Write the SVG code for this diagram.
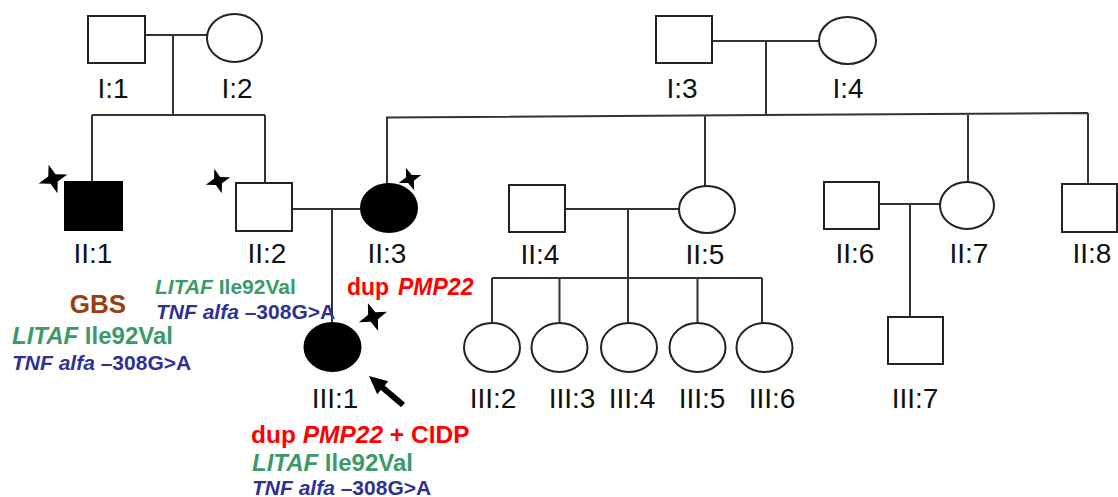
<svg xmlns="http://www.w3.org/2000/svg" width="1118" height="497" viewBox="0 0 1118 497">
<style>
.sh{fill:#fff;stroke:#222;stroke-width:2}
.af{fill:#000;stroke:#000;stroke-width:2}
.ln{fill:none;stroke:#333;stroke-width:2}
.lb{font-family:"Liberation Sans",Arial,sans-serif;font-size:28px;fill:#111;text-anchor:middle}
.t{font-family:"Liberation Sans",Arial,sans-serif;font-weight:bold}
.i{font-style:italic}
.g{fill:#3a9a6a}
.b{fill:#2e3192}
.r{fill:#ff0000}
.br{fill:#9c3d10}
</style>
<defs>
<path id="star" d="M0,-15 L3.8,-3.8 L15,0 L3.8,3.8 L0,15 L-3.8,3.8 L-15,0 L-3.8,-3.8 Z" fill="#000"/>
</defs>
<g id="connectors">
<path class="ln" d="M145,35 H207 M173,35 V115 M92,115 H265 M92,115 V182 M265,115 V183"/>
<path class="ln" d="M292,209 H361 M332,209 V323"/>
<path class="ln" d="M712,41 H819 M766,41 V116 M386,117.5 L1088,113 M387,117.5 V184 M705,116 V186 M968,114 V182 M1088,113 V184"/>
<path class="ln" d="M565,209 H679 M628,209 V278 M492,278 H762 M492,278 V323 M559.5,278 V323 M628,278 V323 M697.5,278 V323 M762,278 V323"/>
<path class="ln" d="M879,204 H940 M910,204 V317"/>
</g>
<g id="I1"><rect class="sh" x="88" y="16" width="57" height="47"/><text class="lb" x="113" y="98">I:1</text></g>
<g id="I2"><ellipse class="sh" cx="234.5" cy="38" rx="27.5" ry="24"/><text class="lb" x="237" y="98">I:2</text></g>
<g id="I3"><rect class="sh" x="656" y="16" width="56" height="47"/><text class="lb" x="682" y="98">I:3</text></g>
<g id="I4"><ellipse class="sh" cx="847.5" cy="40.5" rx="28.5" ry="23.5"/><text class="lb" x="848" y="98">I:4</text></g>
<g id="II1"><rect class="af" x="65" y="182" width="57" height="48"/><use href="#star" transform="translate(53,179) rotate(-17)"/><text class="lb" x="93" y="263">II:1</text></g>
<g id="II2"><rect class="sh" x="236" y="183" width="56" height="48"/><use href="#star" transform="translate(218,181) rotate(-17) scale(0.85)"/><text class="lb" x="267" y="263">II:2</text></g>
<g id="II3"><ellipse class="af" cx="389" cy="208" rx="28" ry="24"/><use href="#star" transform="translate(410,179) rotate(-20) scale(0.8)"/><text class="lb" x="387" y="263">II:3</text></g>
<g id="II4"><rect class="sh" x="509" y="185" width="56" height="47"/><text class="lb" x="540" y="264">II:4</text></g>
<g id="II5"><ellipse class="sh" cx="707" cy="209.5" rx="28" ry="23.5"/><text class="lb" x="705" y="264">II:5</text></g>
<g id="II6"><rect class="sh" x="824" y="182" width="55" height="47"/><text class="lb" x="855" y="263">II:6</text></g>
<g id="II7"><ellipse class="sh" cx="967" cy="205.5" rx="27" ry="23.5"/><text class="lb" x="969" y="263">II:7</text></g>
<g id="II8"><rect class="sh" x="1062" y="184" width="55" height="48"/><text class="lb" x="1092" y="263">II:8</text></g>
<g id="III1"><ellipse class="af" cx="332.5" cy="347" rx="28" ry="24"/><use href="#star" transform="translate(373,317) rotate(-20)"/><polygon fill="#000" points="369,376 388.2,381.2 384.7,385.4 405,402.7 401.1,407.3 380.8,390 377.2,394.2"/><text class="lb" x="335" y="408">III:1</text></g>
<g id="III2"><ellipse class="sh" cx="492" cy="347.5" rx="28" ry="24.5"/><text class="lb" x="493" y="408">III:2</text></g>
<g id="III3"><ellipse class="sh" cx="559.5" cy="347.5" rx="28" ry="24.5"/><text class="lb" x="572" y="408">III:3</text></g>
<g id="III4"><ellipse class="sh" cx="629" cy="347.5" rx="28" ry="24.5"/><text class="lb" x="632" y="408">III:4</text></g>
<g id="III5"><ellipse class="sh" cx="697.5" cy="347.5" rx="28" ry="24.5"/><text class="lb" x="702" y="408">III:5</text></g>
<g id="III6"><ellipse class="sh" cx="764.5" cy="347.5" rx="28" ry="24.5"/><text class="lb" x="772" y="408">III:6</text></g>
<g id="III7"><rect class="sh" x="888" y="317" width="55" height="47"/><text class="lb" x="915" y="408">III:7</text></g>
<g id="annotations">
<text class="t g" x="155" y="294" font-size="21"><tspan class="i">LITAF</tspan> Ile92Val</text>
<text class="t b" x="156" y="319" font-size="21"><tspan class="i">TNF alfa</tspan> –308G&gt;A</text>
<text class="t br" x="98" y="313" font-size="26" text-anchor="middle">GBS</text>
<text class="t g" x="12" y="344" font-size="24"><tspan class="i">LITAF</tspan> Ile92Val</text>
<text class="t b" x="12" y="370" font-size="21"><tspan class="i">TNF alfa</tspan> –308G&gt;A</text>
<text class="t r" x="347" y="295" font-size="23">dup <tspan class="i" x="398">PMP22</tspan></text>
<text class="t r" x="251" y="443" font-size="24.5">dup <tspan class="i">PMP22</tspan> + CIDP</text>
<text class="t g" x="252" y="471" font-size="24"><tspan class="i">LITAF</tspan> Ile92Val</text>
<text class="t b" x="252" y="495" font-size="21"><tspan class="i">TNF alfa</tspan> –308G&gt;A</text>
</g>
</svg>
